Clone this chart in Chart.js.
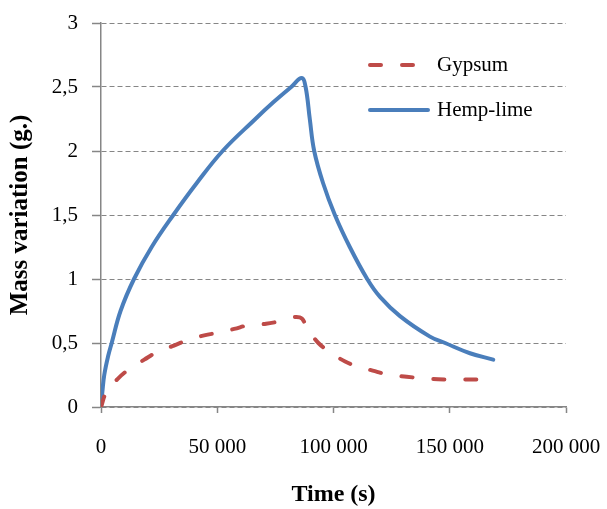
<!DOCTYPE html>
<html>
<head>
<meta charset="utf-8">
<script src="https://cdn.jsdelivr.net/npm/chart.js@4.4.1/dist/chart.umd.min.js"></script>
<style>
    body { margin: 0; background: #fff; }
    #wrap { width: 607px; height: 509px; }
</style>
</head>
<body>
<div id="wrap"><canvas id="grafico" width="607" height="509"></canvas></div>
<script>
// --- DATOS (tiempo en s, variación de masa en g) ---
const hempTime = [0, 600, 1400, 3100, 4600, 8400, 14200, 21800, 31100, 41200, 52300, 66400, 74100, 81800, 86300,
    88000, 89800, 91700, 95500, 100600, 107000, 114500, 120000, 128600, 141500, 148000, 158700, 168700];
const hempMass = [0, 0.12, 0.25, 0.40, 0.5, 0.75, 1.0, 1.25, 1.5, 1.75, 2.0, 2.25, 2.38, 2.5, 2.57,
    2.5, 2.25, 2.0, 1.75, 1.5, 1.25, 1.0, 0.86, 0.71, 0.55, 0.5, 0.42, 0.37];

const gypsumTime = [0, 2400, 7200, 11700, 18600, 24200, 31400, 36900, 44400, 50400, 57300, 63700, 71000, 77000,
    85500, 88900, 93500, 98500, 105000, 111000, 117800, 124000, 131500, 137900, 145000, 151500, 158700, 168000];
const gypsumMass = [0, 0.12, 0.22, 0.29, 0.37, 0.43, 0.48, 0.52, 0.56, 0.58, 0.61, 0.64, 0.65, 0.67,
    0.70, 0.61, 0.50, 0.43, 0.355, 0.314, 0.28, 0.25, 0.236, 0.225, 0.217, 0.215, 0.215, 0.212];

const seriesNames = ['Gypsum', 'Hemp-lime'];
const xTitle = 'Time (s)';
const yTitle = 'Mass variation (g.)';

const GRIS = '#868686';
const SERIF = 'Liberation Serif';

function puntos(ts, vs) { return ts.map((t, i) => ({ x: t, y: vs[i] })); }
function formatMiles(v) { return String(v).replace(/\B(?=(\d{3})+(?!\d))/g, ' '); }
function formatDecimal(v) { return String(v).replace('.', ','); }

// leyenda dentro del área del gráfico, como en el original
const leyenda = {
    id: 'leyenda',
    afterDatasetsDraw(chart) {
        const ctx = chart.ctx;
        chart.data.datasets.forEach((ds, i) => {
            const y = 65 + i * 45;
            ctx.save();
            ctx.strokeStyle = ds.borderColor;
            ctx.lineWidth = ds.borderWidth;
            ctx.lineCap = 'round';
            ctx.setLineDash(ds.borderDash || []);
            ctx.beginPath();
            ctx.moveTo(370, y);
            ctx.lineTo(428, y);
            ctx.stroke();
            ctx.setLineDash([]);
            ctx.fillStyle = '#000';
            ctx.font = `21px "${SERIF}"`;
            ctx.textBaseline = 'middle';
            ctx.fillText(ds.label, 437, y);
            ctx.restore();
        });
    }
};

new Chart(document.getElementById('grafico'), {
    type: 'line',
    data: {
        datasets: [
            {
                label: seriesNames[0],
                data: puntos(gypsumTime, gypsumMass),
                borderColor: '#BE4B48',
                borderWidth: 4,
                borderDash: [11, 21],
                borderCapStyle: 'round',
                borderJoinStyle: 'round',
                pointRadius: 0,
                tension: 0.4,
                fill: false
            },
            {
                label: seriesNames[1],
                data: puntos(hempTime, hempMass),
                borderColor: '#4A7EBB',
                borderWidth: 4,
                borderCapStyle: 'round',
                borderJoinStyle: 'round',
                pointRadius: 0,
                tension: 0.4,
                fill: false
            }
        ]
    },
    options: {
        responsive: false,
        animation: false,
        layout: { padding: { top: 23, right: 41, left: 0, bottom: 0 } },
        plugins: { legend: { display: false }, tooltip: { enabled: false } },
        scales: {
            x: {
                type: 'linear', min: 0, max: 200000,
                ticks: {
                    stepSize: 50000, padding: 24, color: '#000', maxRotation: 0, autoSkip: false,
                    font: { family: SERIF, size: 21, lineHeight: 1 },
                    callback: v => formatMiles(v)
                },
                grid: { drawOnChartArea: false, drawTicks: true, tickLength: 6, tickColor: GRIS, tickWidth: 1.5 },
                border: { color: GRIS, width: 1.5 },
                title: {
                    display: true, text: xTitle, color: '#000',
                    font: { family: SERIF, size: 24, weight: 'bold', lineHeight: 1 },
                    padding: { top: 0, bottom: 2 }
                },
                afterFit: s => { s.height = 102; s.paddingLeft = 0; s.paddingRight = 0; }
            },
            y: {
                min: 0, max: 3,
                ticks: {
                    stepSize: 0.5, padding: 14, color: '#000',
                    font: { family: SERIF, size: 21, lineHeight: 1 },
                    callback: v => formatDecimal(v)
                },
                grid: { color: GRIS, lineWidth: 1, tickLength: 9, tickColor: GRIS, tickWidth: 1.5 },
                border: { color: GRIS, width: 1.5, dash: [5, 3] },
                title: {
                    display: true, text: yTitle, color: '#000',
                    font: { family: SERIF, size: 25, weight: 'bold', lineHeight: 1 },
                    padding: { top: 8, bottom: 0 }
                },
                afterFit: s => { s.width = 101; s.paddingTop = 0; s.paddingBottom = 0; }
            }
        }
    },
    plugins: [leyenda]
});
</script>
</body>
</html>
